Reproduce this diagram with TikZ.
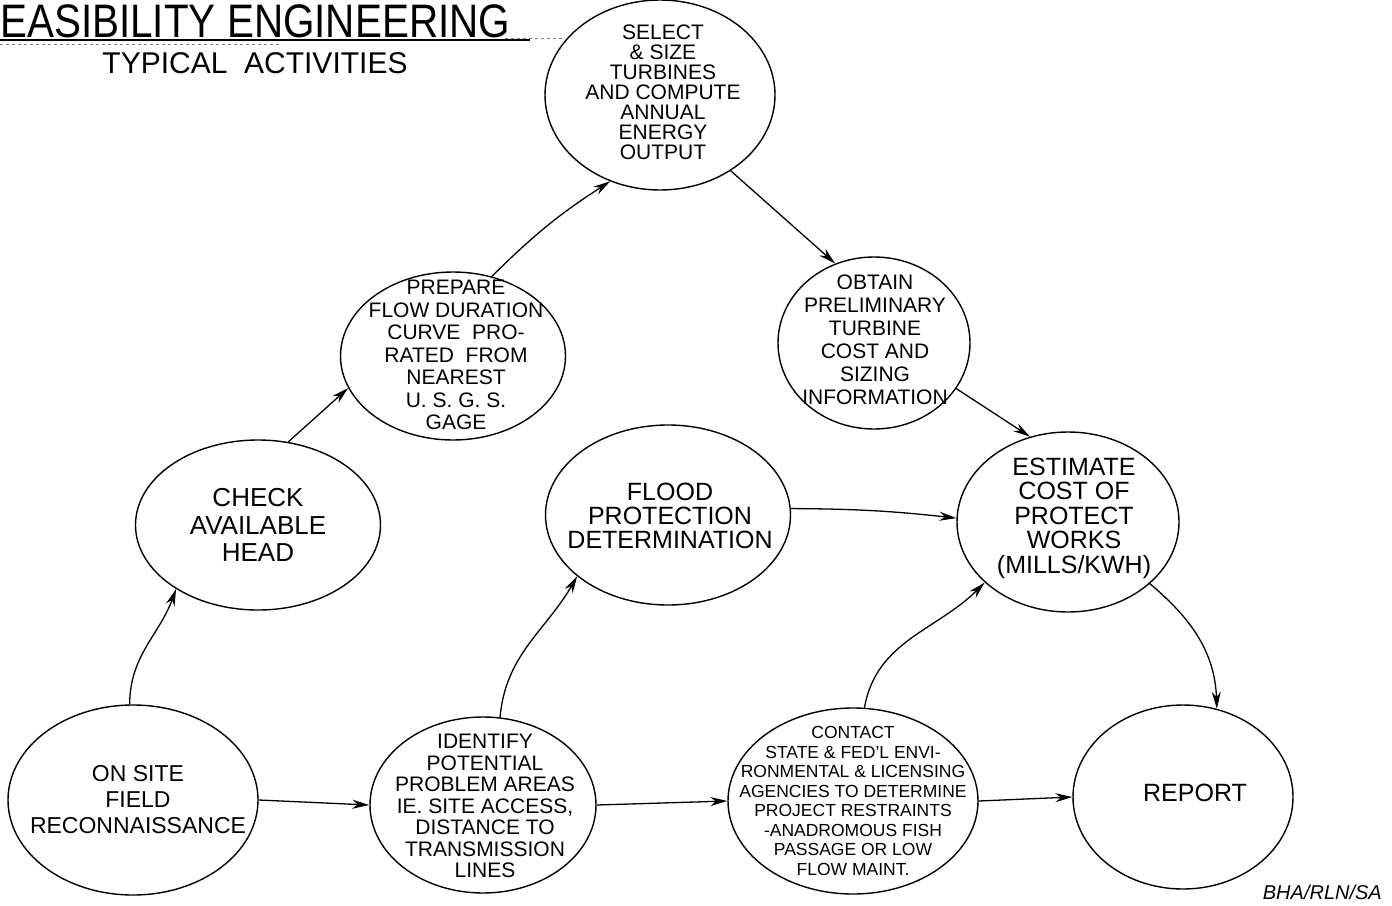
\documentclass[tikz,border=0pt]{standalone}
\usepackage{fontspec}
\setmainfont{Liberation Sans}
\usetikzlibrary{shapes.geometric,arrows.meta}
\tikzset{
  act/.style={draw, ellipse, line width=1.4pt, inner sep=0pt},
  lbl/.style={inner sep=0pt, align=center},
  flow/.style={line width=1.3pt, -{Stealth[length=17pt,width=9pt]}},
}
\newcommand{\fs}[2]{\fontsize{#1}{#2}\selectfont}
\begin{document}
\begin{tikzpicture}[x=1pt,y=-1pt]
\useasboundingbox (0,0) rectangle (1392,905);
% title
\node[anchor=base west, inner sep=0pt, font=\fs{47}{50}] (title) at (0,37) {\scalebox{0.86}[1]{EASIBILITY ENGINEERING}};
\draw[line width=1.3pt] (0,40) -- (530,40);
\draw[line width=0.6pt, dashed, gray] (0,44) -- (280,44);
\draw[line width=0.6pt, dashed, gray] (505,38) -- (562,38);
\node[inner sep=0pt, font=\fs{30}{32}] (sub) at (255,63) {TYPICAL\ \ ACTIVITIES};
% activities (ellipses)
\node[act, minimum width=230, minimum height=190] (select) at (660,95) {};
\node[act, minimum width=225, minimum height=168] (prepare) at (453,356) {};
\node[act, minimum width=192, minimum height=172] (obtain) at (874,343) {};
\node[act, minimum width=245, minimum height=170] (check) at (258,525) {};
\node[act, minimum width=245, minimum height=180] (flood) at (668,515) {};
\node[act, minimum width=222, minimum height=180] (estimate) at (1068,522) {};
\node[act, minimum width=250, minimum height=190] (onsite) at (133,800) {};
\node[act, minimum width=226, minimum height=176] (identify) at (483,805) {};
\node[act, minimum width=250, minimum height=186] (contact) at (853,801) {};
\node[act, minimum width=220, minimum height=184] (report) at (1183,797) {};
% activity texts
\node[lbl, font=\fs{21}{20}] (select-t) at (663,92)
  {SELECT\\\& SIZE\\TURBINES\\AND COMPUTE\\ANNUAL\\ENERGY\\OUTPUT};
\node[lbl, font=\fs{21}{22.5}] (prepare-t) at (456,355)
  {PREPARE\\FLOW DURATION\\CURVE\ \ PRO-\\RATED\ \ FROM\\NEAREST\\U. S. G. S.\\GAGE};
\node[lbl, font=\fs{21}{23}] (obtain-t) at (875,340)
  {OBTAIN\\PRELIMINARY\\TURBINE\\COST AND\\SIZING\\INFORMATION};
\node[lbl, font=\fs{26}{27.5}] (check-t) at (258,525)
  {CHECK\\AVAILABLE\\HEAD};
\node[lbl, font=\fs{25}{24}] (flood-t) at (670,516)
  {FLOOD\\PROTECTION\\DETERMINATION};
\node[lbl, font=\fs{25}{24.5}] (estimate-t) at (1074,518)
  {ESTIMATE\\COST OF\\PROTECT\\WORKS\\(MILLS/KWH)};
\node[lbl, font=\fs{23}{26}] (onsite-t) at (138,800)
  {ON SITE\\FIELD\\RECONNAISSANCE};
\node[lbl, font=\fs{21}{21.5}] (identify-t) at (485,806)
  {IDENTIFY\\POTENTIAL\\PROBLEM AREAS\\IE. SITE ACCESS,\\DISTANCE TO\\TRANSMISSION\\LINES};
\node[lbl, font=\fs{17.5}{19.5}] (contact-t) at (853,801)
  {CONTACT\\STATE \& FED'L ENVI-\\RONMENTAL \& LICENSING\\AGENCIES TO DETERMINE\\PROJECT RESTRAINTS\\-ANADROMOUS FISH\\PASSAGE OR LOW\\FLOW MAINT.};
\node[lbl, font=\fs{25}{26}] (report-t) at (1195,793) {REPORT};
% signature
\node[anchor=east, inner sep=0pt, font=\itshape\fs{20}{22}] (sig) at (1382,892) {BHA/RLN/SA};
% connectors
\draw[flow] (onsite.92) to[out=90,in=250] (check.218);
\draw[flow] (check.70) -- (prepare.197);
\draw[flow] (prepare.64) to[bend left=6] (select.240);
\draw[flow] (select.313) -- (obtain.116);
\draw[flow] (obtain.331) -- (estimate.114);
\draw[flow] (flood.3) to[bend left=3] (estimate.178);
\draw[flow] (estimate.323) to[out=-40,in=92] (report.69);
\draw[flow] (onsite.east) -- (identify.west);
\draw[flow] (identify.79) to[out=85,in=240] (flood.214);
\draw[flow] (identify.east) -- (contact.west);
\draw[flow] (contact.83) to[out=80,in=225] (estimate.216);
\draw[flow] (contact.east) -- (report.west);
\end{tikzpicture}
\end{document}
